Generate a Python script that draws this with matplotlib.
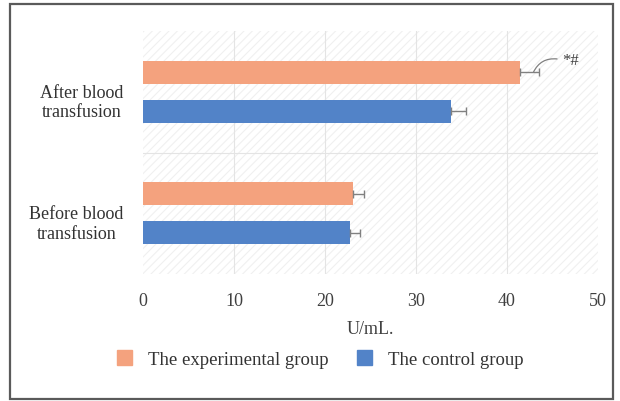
import matplotlib
matplotlib.use("Agg")
import matplotlib.pyplot as plt
from matplotlib.patches import Rectangle
from matplotlib.transforms import ScaledTranslation
import numpy as np

plt.rcParams['font.family'] = ['Liberation Serif', 'DejaVu Serif']
plt.rcParams['hatch.linewidth'] = 0.8

categories = ["Before blood\ntransfusion", "After blood\ntransfusion"]
experimental = [23.1, 41.4]
experimental_sd = [1.15, 2.1]
control = [22.7, 33.8]
control_sd = [1.1, 1.7]
x_ticks = [0, 10, 20, 30, 40, 50]
series_names = ["The experimental group", "The control group"]

orange = "#F4A27E"
blue = "#5283C8"
err_color = "#808080"
text_color = "#333333"

fig = plt.figure(figsize=(6.2, 4.02), dpi=100)

# outer frame around the whole chart
W, H = 620, 402
fig.patches.append(Rectangle((10 / W, 1 - 400 / H), 603 / W, 395 / H,
                             transform=fig.transFigure, fill=False,
                             edgecolor="#5a5a5a", linewidth=1.6))

ax = fig.add_axes([143 / W, 1 - 275 / H, 455 / W, 243 / H])

# hatched plot background
ax.add_patch(Rectangle((0, 0), 1, 1, transform=ax.transAxes, facecolor="white",
                       hatch="////", edgecolor="#f0f0f0", linewidth=0, zorder=0))

y = np.arange(len(categories))
h = 0.19
off = 0.16
ekw = dict(ecolor=err_color, elinewidth=1, capsize=3, capthick=1)

ax.barh(y + off, experimental, height=h, color=orange, zorder=3,
        xerr=[np.zeros(len(y)), experimental_sd], error_kw=ekw)
ax.barh(y - off, control, height=h, color=blue, zorder=3,
        xerr=[np.zeros(len(y)), control_sd], error_kw=ekw)

ax.set_xlim(0, 50)
ax.set_ylim(-0.5, 1.5)
ax.set_xticks(x_ticks)
ax.set_xticklabels([str(t) for t in x_ticks], fontsize=13, color="#404040")
ax.set_yticks(y)
ax.set_yticklabels(categories, fontsize=13, color=text_color)
ax.tick_params(axis="both", length=0)
ax.tick_params(axis="x", pad=13)
ax.tick_params(axis="y", pad=14)
shift = ScaledTranslation(0, -7 / 100, fig.dpi_scale_trans)
for lab in ax.get_yticklabels():
    lab.set_multialignment("center")
    lab.set_transform(lab.get_transform() + shift)

for t in x_ticks[1:-1]:
    ax.axvline(t, color="#e4e4e4", linewidth=0.8, zorder=1)
ax.axhline(0.5, color="#e4e4e4", linewidth=0.8, zorder=1)

for s in ax.spines.values():
    s.set_visible(False)

ax.set_xlabel("U/mL.", fontsize=13, color="#404040", labelpad=8)

# significance mark on the experimental bar after transfusion
tip = experimental[1] + experimental_sd[1]
ax.annotate("", xy=(tip - 0.6, 1 + off), xytext=(tip + 2.0, 1 + off + 0.11),
            arrowprops=dict(arrowstyle="-", color=err_color, lw=0.9,
                            connectionstyle="arc3,rad=0.35",
                            shrinkA=0, shrinkB=0))
ax.text(tip + 2.6, 1 + off + 0.10, "*#", fontsize=12, color="#404040",
        va="center", ha="left")

handles = [Rectangle((0, 0), 1, 1, color=orange), Rectangle((0, 0), 1, 1, color=blue)]
fig.legend(handles, series_names, loc="center", bbox_to_anchor=(320 / W, 1 - 360 / H),
           ncol=2, frameon=False, fontsize=13.5, handlelength=0.8, handleheight=0.8,
           columnspacing=1.5, handletextpad=0.85, labelcolor=text_color)

fig.savefig("out.png", dpi=100)
